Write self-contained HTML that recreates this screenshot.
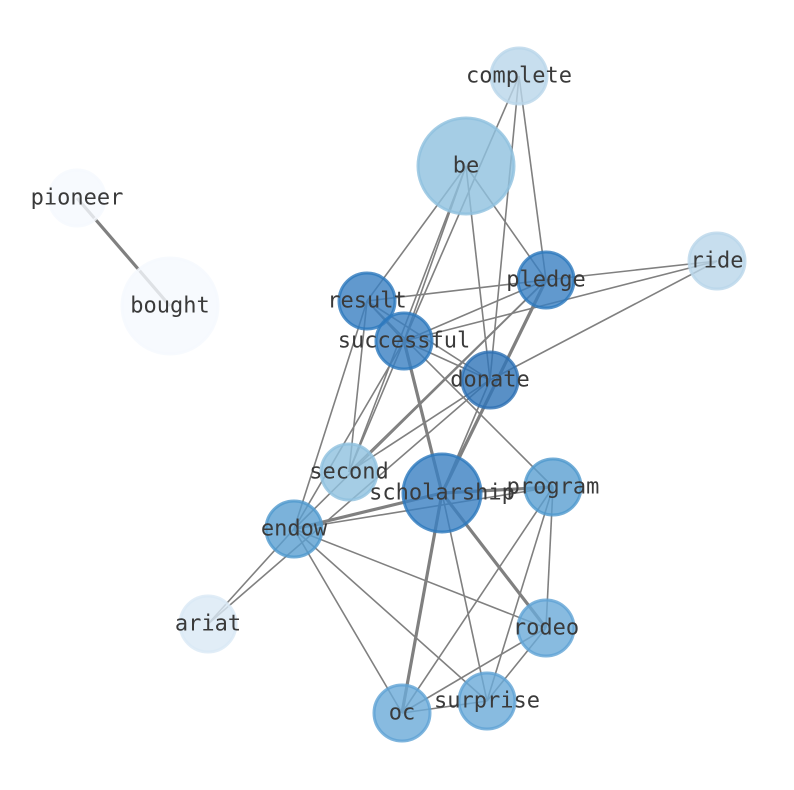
<!DOCTYPE html>
<html><head><meta charset="utf-8"><style>body{margin:0;background:#fff}svg{display:block}</style></head><body>
<svg width="794" height="790" xmlns="http://www.w3.org/2000/svg">
<g stroke="#808080" stroke-width="1.6" fill="none">
<line x1="519" y1="76" x2="404" y2="341"/>
<line x1="519" y1="76" x2="490" y2="380"/>
<line x1="519" y1="76" x2="546" y2="280"/>
<line x1="466" y1="166" x2="367" y2="301"/>
<line x1="466" y1="166" x2="404" y2="341"/>
<line x1="466" y1="166" x2="349" y2="472"/>
<line x1="466" y1="166" x2="490" y2="380"/>
<line x1="466" y1="166" x2="546" y2="280"/>
<line x1="717" y1="261" x2="546" y2="280"/>
<line x1="717" y1="261" x2="404" y2="341"/>
<line x1="717" y1="261" x2="490" y2="380"/>
<line x1="367" y1="301" x2="546" y2="280"/>
<line x1="546" y1="280" x2="404" y2="341"/>
<line x1="546" y1="280" x2="349" y2="472"/>
<line x1="546" y1="280" x2="294" y2="529"/>
<line x1="367" y1="301" x2="404" y2="341"/>
<line x1="367" y1="301" x2="490" y2="380"/>
<line x1="367" y1="301" x2="553" y2="487"/>
<line x1="367" y1="301" x2="349" y2="472"/>
<line x1="367" y1="301" x2="294" y2="529"/>
<line x1="404" y1="341" x2="490" y2="380"/>
<line x1="404" y1="341" x2="349" y2="472"/>
<line x1="404" y1="341" x2="294" y2="529"/>
<line x1="490" y1="380" x2="349" y2="472"/>
<line x1="490" y1="380" x2="208" y2="624"/>
<line x1="490" y1="380" x2="442" y2="493"/>
<line x1="294" y1="529" x2="553" y2="487"/>
<line x1="294" y1="529" x2="208" y2="624"/>
<line x1="294" y1="529" x2="546" y2="628"/>
<line x1="294" y1="529" x2="402" y2="713"/>
<line x1="294" y1="529" x2="487" y2="701"/>
<line x1="442" y1="493" x2="487" y2="701"/>
<line x1="553" y1="487" x2="402" y2="713"/>
<line x1="553" y1="487" x2="487" y2="701"/>
<line x1="553" y1="487" x2="546" y2="628"/>
<line x1="546" y1="628" x2="402" y2="713"/>
<line x1="546" y1="628" x2="487" y2="701"/>
<line x1="402" y1="713" x2="487" y2="701"/>
</g>
<g stroke="#808080" stroke-width="3.2" fill="none">
<line x1="546" y1="280" x2="442" y2="493"/>
<line x1="404" y1="341" x2="442" y2="493"/>
<line x1="442" y1="493" x2="553" y2="487"/>
<line x1="442" y1="493" x2="294" y2="529"/>
<line x1="442" y1="493" x2="546" y2="628"/>
<line x1="442" y1="493" x2="402" y2="713"/>
<line x1="77" y1="198" x2="170" y2="306"/>
</g>
<g stroke-width="3" fill-opacity="0.8" stroke-opacity="0.8">
<circle cx="519" cy="76" r="28" fill="#b9d6ea" stroke="#b9d6ea"/>
<circle cx="466" cy="166" r="48" fill="#8fc1de" stroke="#8fc1de"/>
<circle cx="77" cy="198" r="28" fill="#f5f9fe" stroke="#f5f9fe"/>
<circle cx="170" cy="306" r="48" fill="#f5f9fe" stroke="#f5f9fe"/>
<circle cx="717" cy="261" r="28" fill="#b9d6ea" stroke="#b9d6ea"/>
<circle cx="546" cy="280" r="28" fill="#3a80c2" stroke="#2c78bd"/>
<circle cx="367" cy="301" r="28" fill="#3a80c2" stroke="#2c78bd"/>
<circle cx="404" cy="341" r="28" fill="#3a80c2" stroke="#2c78bd"/>
<circle cx="490" cy="380" r="28" fill="#2f74b8" stroke="#2c6fb3"/>
<circle cx="349" cy="472" r="28" fill="#8fc1de" stroke="#8fc1de"/>
<circle cx="442" cy="493" r="39" fill="#3a80c2" stroke="#2c78bd"/>
<circle cx="553" cy="487" r="28" fill="#5a9fd1" stroke="#4f98cd"/>
<circle cx="294" cy="529" r="28" fill="#5a9fd1" stroke="#4f98cd"/>
<circle cx="208" cy="624" r="28" fill="#dae8f5" stroke="#dae8f5"/>
<circle cx="546" cy="628" r="28" fill="#6aaad8" stroke="#5fa3d4"/>
<circle cx="402" cy="713" r="28" fill="#6aaad8" stroke="#5fa3d4"/>
<circle cx="487" cy="701" r="28" fill="#6aaad8" stroke="#5fa3d4"/>
</g>
<g font-family="'DejaVu Sans Mono','Liberation Mono',monospace" font-size="22" fill="#3a3a3a" text-anchor="middle" dominant-baseline="central">
<text x="519" y="76">complete</text>
<text x="466" y="166">be</text>
<text x="77" y="198">pioneer</text>
<text x="170" y="306">bought</text>
<text x="717" y="261">ride</text>
<text x="546" y="280">pledge</text>
<text x="367" y="301">result</text>
<text x="404" y="341">successful</text>
<text x="490" y="380">donate</text>
<text x="349" y="472">second</text>
<text x="442" y="493">scholarship</text>
<text x="553" y="487">program</text>
<text x="294" y="529">endow</text>
<text x="208" y="624">ariat</text>
<text x="546" y="628">rodeo</text>
<text x="402" y="713">oc</text>
<text x="487" y="701">surprise</text>
</g>
</svg>
</body></html>
